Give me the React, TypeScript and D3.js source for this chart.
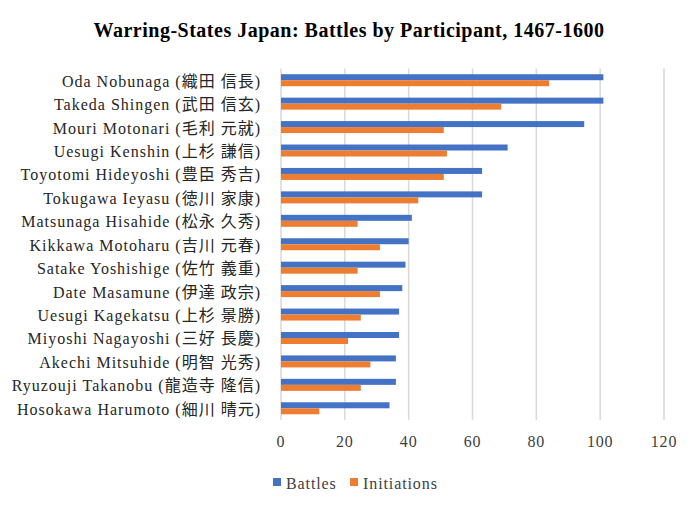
import React from "react";
import * as d3 from "d3";

const categories = [
  "Oda Nobunaga (織田 信長)",
  "Takeda Shingen (武田 信玄)",
  "Mouri Motonari (毛利 元就)",
  "Uesugi Kenshin (上杉 謙信)",
  "Toyotomi Hideyoshi (豊臣 秀吉)",
  "Tokugawa Ieyasu (徳川 家康)",
  "Matsunaga Hisahide (松永 久秀)",
  "Kikkawa Motoharu (吉川 元春)",
  "Satake Yoshishige (佐竹 義重)",
  "Date Masamune (伊達 政宗)",
  "Uesugi Kagekatsu (上杉 景勝)",
  "Miyoshi Nagayoshi (三好 長慶)",
  "Akechi Mitsuhide (明智 光秀)",
  "Ryuzouji Takanobu (龍造寺 隆信)",
  "Hosokawa Harumoto (細川 晴元)",
];
const battles = [101, 101, 95, 71, 63, 63, 41, 40, 39, 38, 37, 37, 36, 36, 34];
const initiations = [84, 69, 51, 52, 51, 43, 24, 31, 24, 31, 25, 21, 28, 25, 12];
const xTicks = [0, 20, 40, 60, 80, 100, 120];
const seriesNames = ["Battles", "Initiations"];
const colors = ["#4472C4", "#ED7D31"];
const title = "Warring-States Japan: Battles by Participant, 1467-1600";

const FONT = "'Liberation Serif', 'Noto Sans CJK JP', serif";

export default function App() {
  const W = 700, H = 514;
  const left = 281, right = 664, top = 68.5, bottom = 420;
  const x = d3.scaleLinear().domain([0, 120]).range([left, right]);
  const y = d3.scaleBand<number>().domain(d3.range(categories.length)).range([top, bottom]);
  const bw = y.bandwidth();
  const barH = 6;
  return (
    <svg width={W} height={H} style={{ position: "absolute", left: 0, top: 0, background: "#fff" }} fontFamily={FONT}>
      <text x={349} y={37} textAnchor="middle" fontSize={20} letterSpacing={0.5} fontWeight="bold" fill="#000">{title}</text>
      {xTicks.map((t) => (
        <g key={t}>
          <line x1={x(t)} x2={x(t)} y1={top} y2={bottom} stroke="#d9d9d9" strokeWidth={1.5} />
          <text x={x(t)} y={447} textAnchor="middle" fontSize={16} letterSpacing={0.8} fill="#404040">{t}</text>
        </g>
      ))}
      {categories.map((c, i) => {
        const cy = (y(i) as number) + bw / 2;
        return (
          <g key={c}>
            <rect x={x(0)} y={cy - barH} width={x(battles[i]) - x(0)} height={barH} fill={colors[0]} />
            <rect x={x(0)} y={cy} width={x(initiations[i]) - x(0)} height={barH} fill={colors[1]} />
            <text x={261} y={cy + 6.5} textAnchor="end" fontSize={16} letterSpacing={1} fill="#262626">{c}</text>
          </g>
        );
      })}
      <g>
        <rect x={273} y={478} width={8} height={8} fill={colors[0]} />
        <text x={286} y={489} fontSize={16} letterSpacing={0.9} fill="#404040">{seriesNames[0]}</text>
        <rect x={350} y={478} width={8} height={8} fill={colors[1]} />
        <text x={363} y={489} fontSize={16} letterSpacing={0.9} fill="#404040">{seriesNames[1]}</text>
      </g>
    </svg>
  );
}
